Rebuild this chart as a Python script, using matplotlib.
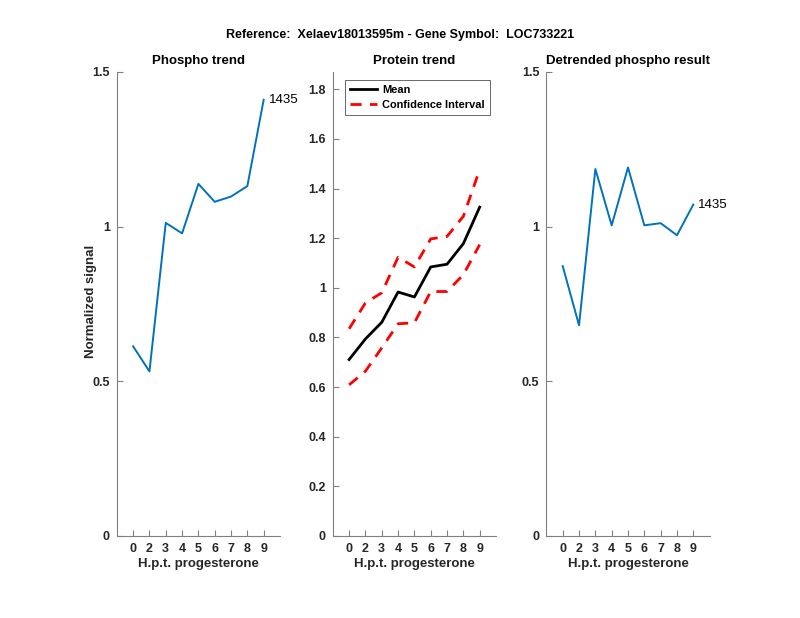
import matplotlib
matplotlib.use('Agg')
import matplotlib.pyplot as plt
import numpy as np

plt.rcParams['font.family'] = ['Liberation Sans', 'DejaVu Sans']

# time points (hours post progesterone)
hpt_labels = ['0', '2', '3', '4', '5', '6', '7', '8', '9']
phospho = [0.613, 0.532, 1.012, 0.978, 1.138, 1.080, 1.097, 1.131, 1.410]
protein_mean = [0.711, 0.794, 0.861, 0.983, 0.963, 1.084, 1.095, 1.178, 1.325]
protein_upper = [0.835, 0.939, 0.980, 1.123, 1.084, 1.197, 1.207, 1.288, 1.476]
protein_lower = [0.609, 0.664, 0.758, 0.855, 0.859, 0.985, 0.985, 1.053, 1.174]
detrended = [0.872, 0.681, 1.186, 1.004, 1.191, 1.004, 1.011, 0.972, 1.071]
peptide_id = '1435'

blue = '#0072BD'
axcol = '#262626'
x = np.arange(1, len(hpt_labels) + 1)

fig = plt.figure(figsize=(8, 6.18), dpi=100)
fig.text(0.5, 0.944, 'Reference:  Xelaev18013595m - Gene Symbol:  LOC733221',
         ha='center', va='center', fontsize=9, fontweight='bold')

w, b, h = 0.204, 0.1327, 0.751
ax1 = fig.add_axes([0.146, b, w, h])
ax2 = fig.add_axes([0.416, b, w, h])
ax3 = fig.add_axes([0.683, b, w, h])

def style(ax):
    ax.spines['top'].set_visible(False)
    ax.spines['right'].set_visible(False)
    for s in ['left', 'bottom']:
        ax.spines[s].set_color('#808080')
        ax.spines[s].set_linewidth(0.8)
    ax.tick_params(direction='in', length=4, width=0.8, color='#808080',
                   labelcolor=axcol, labelsize=9, pad=5)
    ax.set_xlim(0, 10)
    ax.set_xticks(x)
    ax.set_xticklabels(hpt_labels)
    for lab in ax.get_xticklabels() + ax.get_yticklabels():
        lab.set_fontweight('bold')
    ax.set_xlabel('H.p.t. progesterone', fontsize=9.5, fontweight='bold', color=axcol, labelpad=2)

# phospho trend
ax1.plot(x, phospho, color=blue, lw=1.4)
ax1.text(x[-1] + 0.3, phospho[-1], peptide_id, va='center', ha='left', fontsize=9.5)
ax1.set_ylim(0, 1.5)
ax1.set_yticks([0, 0.5, 1, 1.5])
ax1.set_yticklabels(['0', '0.5', '1', '1.5'])
ax1.set_title('Phospho trend', fontsize=9.5, fontweight='bold', pad=6)
ax1.set_ylabel('Normalized signal', fontsize=9.5, fontweight='bold', color=axcol)
ax1.yaxis.set_label_coords(-0.12, 0.505)
style(ax1)

# protein trend
ax2.plot(x, protein_mean, color='black', lw=2, label='Mean')
ax2.plot(x, protein_upper, color='red', lw=2, ls=(0, (4, 3)), label='Confidence Interval')
ax2.plot(x, protein_lower, color='red', lw=2, ls=(0, (4, 3)))
ax2.set_ylim(0, 1.87)
ax2.set_yticks(np.arange(0, 1.81, 0.2))
ax2.set_yticklabels(['0', '0.2', '0.4', '0.6', '0.8', '1', '1.2', '1.4', '1.6', '1.8'])
ax2.set_title('Protein trend', fontsize=9.5, fontweight='bold', pad=6)
leg = ax2.legend(loc='upper left', bbox_to_anchor=(0.055, 0.99), fontsize=7.9,
                 fancybox=False, edgecolor='#262626', handlelength=2.5,
                 borderpad=0.45, labelspacing=0.45, handletextpad=0.45,
                 borderaxespad=0.3)
leg.get_frame().set_linewidth(0.6)
for t in leg.get_texts():
    t.set_fontweight('bold')
style(ax2)

# detrended result
ax3.plot(x, detrended, color=blue, lw=1.4)
ax3.text(x[-1] + 0.3, detrended[-1], peptide_id, va='center', ha='left', fontsize=9.5)
ax3.set_ylim(0, 1.5)
ax3.set_yticks([0, 0.5, 1, 1.5])
ax3.set_yticklabels(['0', '0.5', '1', '1.5'])
ax3.set_title('Detrended phospho result', fontsize=9.5, fontweight='bold', pad=6)
style(ax3)

fig.savefig('out.png', dpi=100)
